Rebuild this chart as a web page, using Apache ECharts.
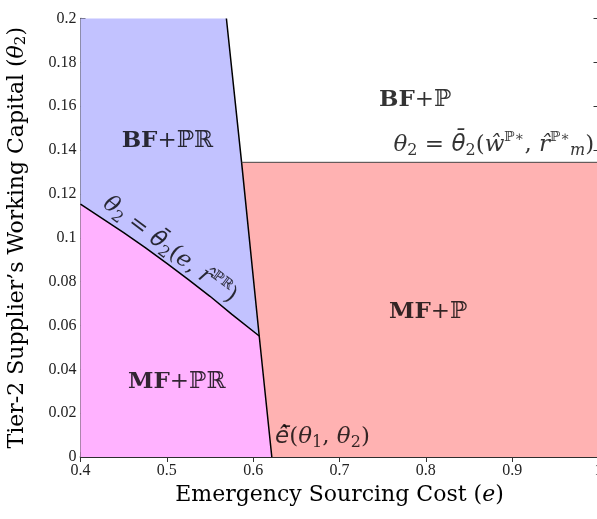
<!DOCTYPE html>
<html>
<head>
<meta charset="utf-8">
<script src="https://cdn.jsdelivr.net/npm/echarts@6/dist/echarts.min.js"></script>
<title>regions</title>
<style>
* {margin:0; padding:0;}
body {background:#fff;}
#chart {width:597px; height:519px;}
</style>
</head>
<body>
<div id="chart"></div>
<script>
// boundary curves (e, theta2)
var curveE     = [0.40, 0.425, 0.45, 0.475, 0.50, 0.525, 0.55, 0.575, 0.607];
var curveTheta = [0.1153, 0.1088, 0.1023, 0.0955, 0.0883, 0.0809, 0.0733, 0.0652, 0.0552];
var barE       = [0.569, 0.5866, 0.607, 0.6216];
var barTheta   = [0.2, 0.1344, 0.0552, 0];
var pLineE     = [0.5866, 1.0];
var pLineTheta = [0.1344, 0.1344];

var serif = "'Liberation Serif','DejaVu Serif',serif";
var dserif = "'DejaVu Serif',serif";
var dsans = "'DejaVu Sans',sans-serif"; // only one that stacks the bar accents properly

function pts(es, ts) {
  var r = [];
  for (var i = 0; i < es.length; i++) r.push([es[i], ts[i]]);
  return r;
}
var curve = pts(curveE, curveTheta);
var bar = pts(barE, barTheta);

// regions as polygons
var blueReg = [[0.4, 0.2], bar[0], bar[1], bar[2]].concat(curve.slice().reverse());
var pinkReg = curve.concat([bar[3], [0.4, 0]]);
var redReg  = [bar[1], [pLineE[1], pLineTheta[1]], [1.0, 0], bar[3]];

function polySeries(poly, color) {
  return {
    type: 'custom',
    silent: true,
    data: [0],
    z: 1,
    renderItem: function (params, api) {
      var p = poly.map(function (d) { return api.coord(d); });
      return {type: 'polygon', shape: {points: p}, style: {fill: color}};
    }
  };
}

var rich = {
  n:   {fontFamily: dserif, fontSize: 23, lineHeight: 28, color: '#000'},
  i:   {fontFamily: dserif, fontSize: 23, lineHeight: 28, fontStyle: 'italic', color: '#000'},
  ib:  {fontFamily: dsans, fontSize: 23, lineHeight: 28, fontStyle: 'italic', color: '#000'},
  b:   {fontFamily: dserif, fontSize: 23, lineHeight: 28, fontWeight: 'bold', color: '#000'},
  bb:  {fontFamily: dserif, fontSize: 23, lineHeight: 28, color: '#000'},
  sub: {fontFamily: dserif, fontSize: 16, lineHeight: 13, verticalAlign: 'bottom', color: '#000'},
  subi:{fontFamily: dserif, fontSize: 16, lineHeight: 13, verticalAlign: 'bottom', fontStyle: 'italic', color: '#000'},
  sup: {fontFamily: dserif, fontSize: 14, lineHeight: 13, verticalAlign: 'top', color: '#000'}
};

// region / curve labels
var labelText = [
  '{b|BF}{bb|+ℙℝ}',
  '{b|BF}{bb|+ℙ}',
  '{i|θ}{sub|2}{n| = }{ib|θ\u0304}{sub|2}{n|(}{i|ŵ}{sup|ℙ∗}{n|, }{i|r̂}{sup|ℙ∗}{subi|m}{n|)}',
  '{i|θ}{sub|2}{n| = }{ib|θ\u0304}{sub|2}{n|(}{i|e}{n|, }{i|r̂}{sup|ℙℝ}{n|)}',
  '{b|MF}{bb|+ℙ}',
  '{b|MF}{bb|+ℙℝ}',
  '{ib|e\u0302\u0304}{n|(}{i|θ}{sub|1}{n|, }{i|θ}{sub|2}{n|)}'
];
var labelE     = [0.5006, 0.7876, 0.995, 0.5035, 0.8027, 0.5115, 0.6254];
var labelTheta = [0.1443, 0.1628, 0.1425, 0.0945, 0.0661, 0.0343, 0.0093];
var labelAlign = ['center', 'center', 'right', 'center', 'center', 'center', 'left'];
var labelRot   = [0, 0, 0, -37, 0, 0, 0];

var labelData = labelText.map(function (t, k) {
  return {
    value: [labelE[k], labelTheta[k]],
    label: {show: true, position: 'inside', formatter: t, align: labelAlign[k],
            rotate: labelRot[k], color: '#000', textBorderWidth: 0, rich: rich}
  };
});

var axisCommon = {
  axisLine: {show: true, lineStyle: {color: '#222', width: 1.5}},
  axisTick: {show: true, inside: true, length: 5, lineStyle: {color: '#333'}},
  splitLine: {show: false}
};

var chart = echarts.init(document.getElementById('chart'));
chart.setOption({
  animation: false,
  grid: {left: 80.5, top: 18.5, width: 518, height: 438.5, outerBoundsMode: 'none', containLabel: false},
  xAxis: [
    Object.assign({
      type: 'value', min: 0.4, max: 1, interval: 0.1, position: 'bottom',
      name: 'Emergency Sourcing Cost ({it|e})', nameLocation: 'middle', nameGap: 26,
      nameTextStyle: {fontFamily: dserif, fontSize: 22, color: '#000',
        rich: {it: {fontFamily: dserif, fontSize: 22, fontStyle: 'italic', color: '#000'}}},
      axisLabel: {fontFamily: serif, fontSize: 16, color: '#222', margin: 6}
    }, axisCommon),
    Object.assign({
      type: 'value', min: 0.4, max: 1, interval: 0.1, position: 'top',
      axisLabel: {show: false}
    }, axisCommon)
  ],
  yAxis: [
    Object.assign({
      type: 'value', min: 0, max: 0.2, interval: 0.02, position: 'left',
      name: 'Tier-2 Supplier’s Working Capital ({it|θ}{sb|2})', nameLocation: 'middle', nameGap: 52,
      nameTextStyle: {fontFamily: dserif, fontSize: 22, color: '#000',
        rich: {it: {fontFamily: dserif, fontSize: 22, fontStyle: 'italic', color: '#000'},
               sb: {fontFamily: dserif, fontSize: 15, color: '#000', padding: [8, 0, 0, 0]}}},
      axisLabel: {fontFamily: serif, fontSize: 16, color: '#222', margin: 4}
    }, axisCommon),
    Object.assign({
      type: 'value', min: 0, max: 0.2, interval: 0.02, position: 'right',
      axisLabel: {show: false}
    }, axisCommon)
  ],
  series: [
    polySeries(blueReg, '#c2c2ff'),
    polySeries(pinkReg, '#ffb2ff'),
    polySeries(redReg, '#ffb2b2'),
    {type: 'line', data: curve, symbol: 'none', silent: true, z: 3,
     lineStyle: {color: '#000', width: 1.5}},
    {type: 'line', data: bar, symbol: 'none', silent: true, z: 3,
     lineStyle: {color: '#000', width: 1.5}},
    {type: 'line', data: pts(pLineE, pLineTheta), symbol: 'none', silent: true, z: 3,
     lineStyle: {color: '#444', width: 1}},
    {type: 'scatter', data: labelData, symbolSize: 0, silent: true, z: 5}
  ]
});
</script>
</body>
</html>
